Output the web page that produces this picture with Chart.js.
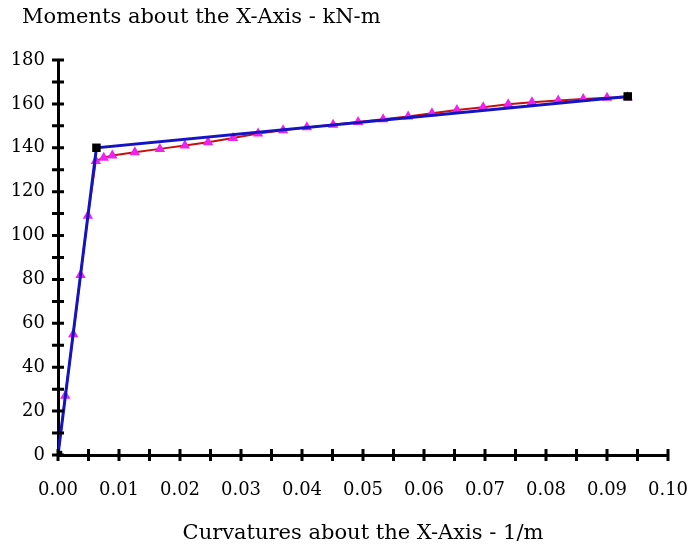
<!DOCTYPE html>
<html>
<head>
<meta charset="utf-8">
<script src="https://cdn.jsdelivr.net/npm/chart.js@4"></script>
<style>
  html, body { margin: 0; padding: 0; background: #fff; }
  #wrap { width: 693px; height: 548px; }
</style>
</head>
<body>
<div id="wrap"><canvas id="myChart" width="693" height="548"></canvas></div>
<script>
// curvature (1/m) and moment (kN-m)
let krivostCara = [0, 0.0063, 0.0934];
let momentCara = [0, 140, 163.4];

let krivostBody = [0, 0.0012, 0.0025, 0.0037, 0.0049, 0.0062, 0.0075, 0.0089, 0.0126, 0.0167,
    0.0208, 0.0246, 0.0287, 0.0328, 0.0369, 0.0408, 0.0451, 0.0492, 0.0533, 0.0574,
    0.0613, 0.0654, 0.0697, 0.0738, 0.0777, 0.0820, 0.0861, 0.0900, 0.0934];
let momentBody = [0, 27, 55, 82, 109, 134, 135.5, 136.5, 138, 139.5,
    141, 142.5, 144.5, 146.5, 148, 149.3, 150.5, 151.7, 153, 154.3,
    155.7, 157.2, 158.5, 159.8, 160.8, 161.5, 162.2, 162.8, 163];

let X_MIN = 0, X_MAX = 0.1, X_KROK = 0.005;
let Y_MIN = 0, Y_MAX = 180, Y_KROK = 10;

let NADPIS = 'Moments about the X-Axis - kN-m';
let PISMO = 'DejaVu Serif';

function body(xs, ys) {
    return xs.map((x, i) => ({ x: x, y: ys[i] }));
}

// ticks that cross the axis line on both sides + the y title top left
let krizky = {
    id: 'krizky',
    afterDraw(chart) {
        let c = chart.ctx;
        let sx = chart.scales.x, sy = chart.scales.y;
        let osaX = sy.getPixelForValue(0);
        let osaY = sx.getPixelForValue(0);
        c.save();
        c.strokeStyle = '#000';
        c.lineWidth = 3;
        c.beginPath();
        sx.ticks.forEach(t => {
            let px = sx.getPixelForValue(t.value);
            c.moveTo(px, osaX - 6);
            c.lineTo(px, osaX + 6);
        });
        sy.ticks.forEach(t => {
            let py = sy.getPixelForValue(t.value);
            c.moveTo(osaY - 6, py);
            c.lineTo(osaY + 6, py);
        });
        c.stroke();

        c.fillStyle = '#000';
        c.font = '21px "' + PISMO + '"';
        c.textAlign = 'left';
        c.textBaseline = 'alphabetic';
        c.fillText(NADPIS, 22, 23);
        c.restore();
    }
};

let ctx = document.getElementById('myChart').getContext('2d');
let myChart = new Chart(ctx, {
    type: 'scatter',
    data: {
        datasets: [{
            label: 'Bilinear',
            data: body(krivostCara, momentCara),
            showLine: true,
            borderColor: '#1414c4',
            borderWidth: 3,
            pointStyle: 'rect',
            pointRadius: 6,
            pointBackgroundColor: '#000',
            pointBorderColor: '#000',
            pointBorderWidth: 0
        }, {
            label: 'Moment-Curvature',
            data: body(krivostBody, momentBody),
            showLine: true,
            borderColor: '#c81010',
            borderWidth: 2,
            pointStyle: 'triangle',
            pointRadius: 6,
            pointBackgroundColor: '#ee22ee',
            pointBorderColor: '#ee22ee',
            pointBorderWidth: 0
        }]
    },
    options: {
        responsive: false,
        animation: false,
        layout: { padding: { left: 4, right: 25, top: 60, bottom: 2 } },
        plugins: {
            legend: { display: false },
            tooltip: { enabled: false },
            title: { display: false }
        },
        scales: {
            x: {
                type: 'linear',
                min: X_MIN,
                max: X_MAX,
                afterFit(scale) {
                    scale.height = 91;
                    scale.paddingLeft = 0;
                    scale.paddingRight = 0;
                },
                grid: { display: false, drawTicks: false },
                border: { display: true, color: '#000', width: 3 },
                ticks: {
                    stepSize: X_KROK,
                    autoSkip: false,
                    maxRotation: 0,
                    padding: 25,
                    color: '#000',
                    font: { family: PISMO, size: 18 },
                    callback: v => Math.round(v * 1000) % 10 === 0 ? v.toFixed(2) : ''
                },
                title: {
                    display: true,
                    text: 'Curvatures about the X-Axis - 1/m',
                    color: '#000',
                    font: { family: PISMO, size: 21 },
                    padding: { top: 0, bottom: 0 }
                }
            },
            y: {
                type: 'linear',
                min: Y_MIN,
                max: Y_MAX,
                afterFit(scale) {
                    scale.width = 54;
                    scale.paddingTop = 0;
                    scale.paddingBottom = 0;
                },
                grid: { display: false, drawTicks: false },
                border: { display: true, color: '#000', width: 3 },
                ticks: {
                    stepSize: Y_KROK,
                    autoSkip: false,
                    padding: 13,
                    color: '#000',
                    font: { family: PISMO, size: 18 },
                    callback: v => Math.round(v) % 20 === 0 ? String(v) : ''
                }
            }
        }
    },
    plugins: [krizky]
});
</script>
</body>
</html>
